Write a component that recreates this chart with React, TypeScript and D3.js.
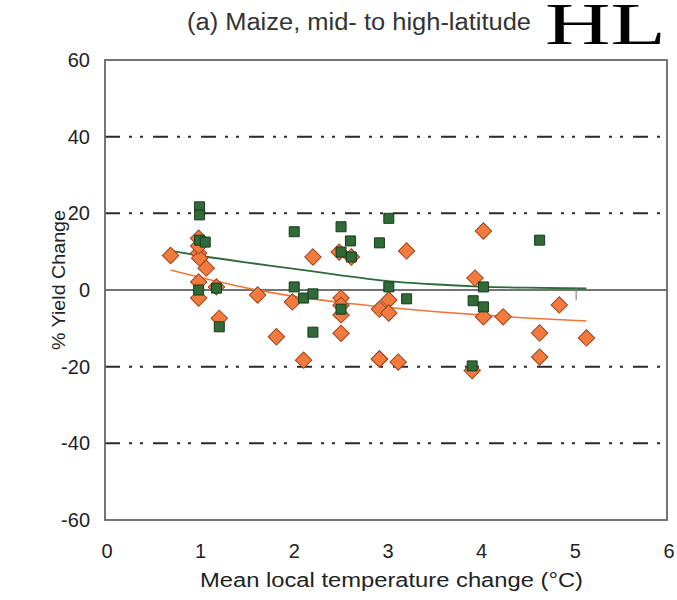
import React from "react";
import * as d3 from "d3";

// Crop yield response to local warming: maize, mid- to high-latitude
const title = "(a) Maize, mid- to high-latitude";
const tag = "HL";
const xLabel = "Mean local temperature change (°C)";
const yLabel = "% Yield Change";

const xTicks = [0, 1, 2, 3, 4, 5, 6];
const yTicks = [-60, -40, -20, 0, 20, 40, 60];
const dashedLevels = [-40, -20, 20, 40];

// Without adaptation (orange diamonds): [temperature change, % yield change]
const noAdaptTemp = [
  0.7, 1.0, 1.0, 1.01, 1.08, 1.0, 1.0, 1.19, 1.22, 1.63, 1.83, 2.0, 2.22, 2.12,
  2.52, 2.52, 2.52, 2.52, 2.63, 2.93, 3.03, 2.93, 3.03, 3.22, 2.93, 3.13, 3.95,
  4.04, 4.04, 4.25, 4.85, 4.64, 5.14, 4.64, 3.92, 2.5, 1.0,
];
const noAdaptYield = [
  9.0, 13.5, 9.6, 8.3, 5.7, 2.1, -2.1, 0.8, -7.4, -1.3, -12.2, -3.1, 8.6, -18.3,
  -2.1, -4.0, -6.5, -11.3, 8.6, -5.0, -2.6, -18.0, -6.0, 10.2, -18.0, -18.8, 3.1,
  15.4, -7.0, -7.0, -3.9, -11.2, -12.5, -17.5, -21.0, 9.9, 11.5,
];

// With adaptation (green squares)
const adaptTemp = [
  1.01, 1.01, 1.01, 1.07, 1.0, 1.19, 1.22, 2.02, 2.02, 2.12, 2.22, 2.22, 2.52,
  2.62, 2.52, 2.52, 2.63, 2.93, 3.03, 3.03, 3.22, 4.64, 4.04, 3.93, 4.04, 3.92,
];
const adaptYield = [
  21.7, 19.6, 13.0, 12.5, 0.0, 0.5, -9.6, 15.2, 0.8, -2.1, -1.0, -11.0, 16.5,
  12.8, 9.9, -5.0, 8.6, 12.3, 18.7, 0.8, -2.3, 13.0, 0.8, -2.8, -4.4, -19.8,
];

// Fitted response curves, sampled along temperature
const fitTemp = [0.7, 1.0, 1.5, 2.0, 2.5, 3.0, 3.5, 4.0, 4.5, 5.14];
const adaptFit = [10.2, 9.0, 7.2, 5.6, 3.9, 2.4, 1.5, 0.9, 0.6, 0.4];
const noAdaptFit = [5.2, 3.4, 0.6, -1.6, -3.2, -4.5, -5.6, -6.5, -7.3, -8.1];

// Short error stub at the end of the adaptation curve
const stubTemp = [5.03];
const stubRange = [[0.4, -2.6]];

const W = 677;
const H = 600;
const plot = { left: 105, right: 667, top: 60, bottom: 520 };

const ORANGE = "#f27a3c";
const ORANGE_EDGE = "#9c4420";
const GREEN = "#2f6a37";
const GREEN_EDGE = "#183b1e";
const FONT = "'Liberation Sans', Arial, Helvetica, sans-serif";

export default function App() {
  const x = d3.scaleLinear().domain([0, 6]).range([plot.left, plot.right]);
  const y = d3.scaleLinear().domain([-60, 60]).range([plot.bottom, plot.top]);

  const line = d3
    .line<[number, number]>()
    .x((d) => x(d[0]))
    .y((d) => y(d[1]))
    .curve(d3.curveMonotoneX);

  const adaptPath = line(fitTemp.map((t, i) => [t, adaptFit[i]]));
  const noAdaptPath = line(fitTemp.map((t, i) => [t, noAdaptFit[i]]));

  const sq = d3.symbol().type(d3.symbolSquare).size(100)();
  const dia = d3.symbol().type(d3.symbolSquare).size(135)();

  return (
    <svg
      width={W}
      height={H}
      style={{ position: "absolute", left: 0, top: 0, background: "#fff" }}
      fontFamily={FONT}
    >
      <rect x={0} y={0} width={W} height={H} fill="#fff" />

      <text
        x={187}
        y={30}
        fontSize={23}
        fill="#333"
        textLength={344}
        lengthAdjust="spacingAndGlyphs"
      >
        {title}
      </text>
      <text
        x={545}
        y={44}
        fontSize={60}
        fontFamily="'Liberation Serif', 'Times New Roman', serif"
        fill="#000"
        textLength={121}
        lengthAdjust="spacingAndGlyphs"
      >
        {tag}
      </text>

      {/* reference levels */}
      {dashedLevels.map((v) => (
        <line
          key={v}
          x1={plot.left}
          x2={plot.right}
          y1={y(v)}
          y2={y(v)}
          stroke="#2a2a2a"
          strokeWidth={2}
          strokeDasharray="15,9,3,8,3,10"
        />
      ))}
      <line
        x1={plot.left}
        x2={plot.right}
        y1={y(0)}
        y2={y(0)}
        stroke="#444"
        strokeWidth={1.5}
      />

      {/* fitted curves */}
      <path d={adaptPath ?? ""} fill="none" stroke="#2d6b3a" strokeWidth={1.8} />
      <path d={noAdaptPath ?? ""} fill="none" stroke="#f4753a" strokeWidth={1.6} />
      {stubTemp.map((t, i) => (
        <line
          key={"s" + i}
          x1={x(t)}
          x2={x(t)}
          y1={y(stubRange[i][0])}
          y2={y(stubRange[i][1])}
          stroke="#888"
          strokeWidth={1.2}
        />
      ))}

      {/* observations */}
      {noAdaptTemp.map((t, i) => (
        <path
          key={"o" + i}
          d={dia ?? ""}
          transform={`translate(${x(t)},${y(noAdaptYield[i])}) rotate(45)`}
          fill={ORANGE}
          stroke={ORANGE_EDGE}
          strokeWidth={1}
        />
      ))}
      {adaptTemp.map((t, i) => (
        <path
          key={"g" + i}
          d={sq ?? ""}
          transform={`translate(${x(t)},${y(adaptYield[i])})`}
          fill={GREEN}
          stroke={GREEN_EDGE}
          strokeWidth={1}
        />
      ))}

      {/* frame */}
      <rect
        x={plot.left}
        y={plot.top}
        width={plot.right - plot.left}
        height={plot.bottom - plot.top}
        fill="none"
        stroke="#666"
        strokeWidth={1.8}
      />

      {/* y ticks */}
      {yTicks.map((v) => (
        <text
          key={v}
          x={90}
          y={y(v)}
          dy="0.35em"
          textAnchor="end"
          fontSize={20}
          fill="#222"
        >
          {v}
        </text>
      ))}
      {/* x ticks */}
      {xTicks.map((v) => (
        <text
          key={v}
          x={x(v) + 2}
          y={558}
          textAnchor="middle"
          fontSize={20}
          fill="#222"
        >
          {v}
        </text>
      ))}

      <text
        x={200}
        y={587}
        fontSize={20}
        fill="#222"
        textLength={383}
        lengthAdjust="spacingAndGlyphs"
      >
        {xLabel}
      </text>
      <text
        transform={`translate(65,350) rotate(-90)`}
        fontSize={18}
        fill="#222"
        textLength={140}
        lengthAdjust="spacingAndGlyphs"
      >
        {yLabel}
      </text>
    </svg>
  );
}
